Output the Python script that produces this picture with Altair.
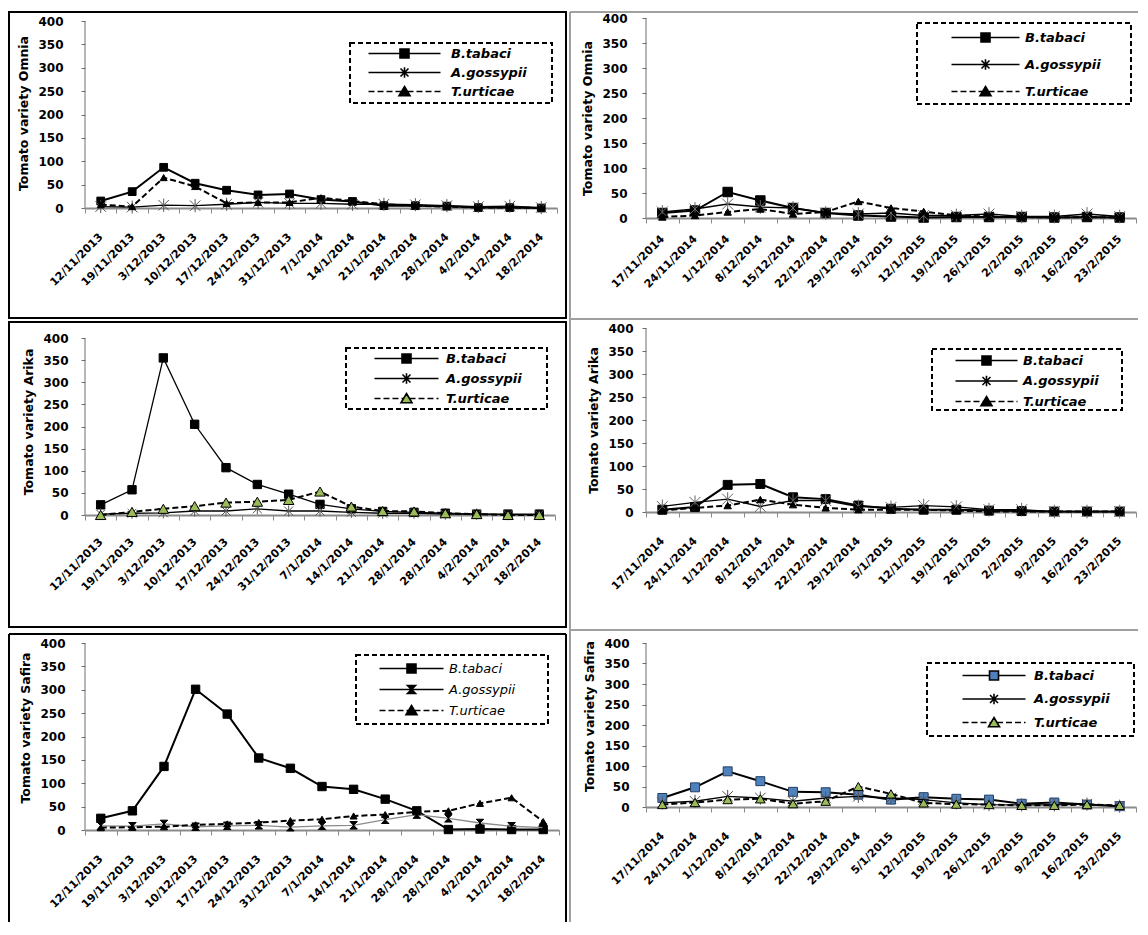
import json
import altair as alt
import pandas as pd

# ---------------- data ----------------
LEFT_DATES = ["12/11/2013", "19/11/2013", "3/12/2013", "10/12/2013", "17/12/2013",
              "24/12/2013", "31/12/2013", "7/1/2014", "14/1/2014", "21/1/2014",
              "28/1/2014", "28/1/2014", "4/2/2014", "11/2/2014", "18/2/2014"]
RIGHT_DATES = ["17/11/2014", "24/11/2014", "1/12/2014", "8/12/2014", "15/12/2014",
               "22/12/2014", "29/12/2014", "5/1/2015", "12/1/2015", "19/1/2015",
               "26/1/2015", "2/2/2015", "9/2/2015", "16/2/2015", "23/2/2015"]
SPECIES = ["B.tabaci", "A.gossypii", "T.urticae"]

OMNIA_2013_BT = [15, 35, 87, 53, 38, 28, 30, 18, 14, 5, 5, 4, 1, 1, 0]
OMNIA_2013_AG = [3, 2, 6, 5, 8, 12, 10, 10, 8, 8, 7, 5, 3, 4, 1]
OMNIA_2013_TU = [7, 3, 65, 46, 10, 12, 12, 22, 15, 8, 5, 3, 1, 1, 0]

OMNIA_2014_BT = [10, 15, 52, 35, 20, 10, 5, 3, 1, 2, 2, 2, 1, 2, 1]
OMNIA_2014_AG = [12, 18, 28, 22, 20, 10, 8, 10, 5, 5, 8, 3, 3, 8, 3]
OMNIA_2014_TU = [2, 5, 12, 18, 8, 12, 33, 20, 13, 5, 3, 2, 1, 2, 1]

ARIKA_2013_BT = [23, 57, 355, 205, 107, 69, 47, 24, 14, 8, 6, 4, 2, 2, 2]
ARIKA_2013_AG = [2, 4, 5, 9, 9, 14, 9, 9, 6, 4, 4, 2, 2, 1, 1]
ARIKA_2013_TU = [0, 7, 14, 20, 28, 30, 34, 53, 19, 9, 8, 4, 2, 0, 0]

ARIKA_2014_BT = [5, 11, 59, 61, 32, 28, 14, 7, 5, 5, 3, 2, 1, 1, 1]
ARIKA_2014_AG = [12, 21, 28, 12, 25, 25, 12, 10, 14, 11, 5, 5, 1, 1, 1]
ARIKA_2014_TU = [3, 9, 14, 27, 16, 9, 5, 5, 5, 3, 1, 1, 1, 1, 1]

SAFIRA_2013_BT = [25, 41, 136, 301, 248, 154, 132, 93, 87, 66, 41, 1, 2, 1, 1]
SAFIRA_2013_AG = [9, 8, 13, 7, 9, 10, 6, 9, 10, 22, 33, 25, 15, 8, 5]
SAFIRA_2013_TU = [5, 6, 7, 11, 13, 16, 20, 23, 30, 33, 39, 41, 57, 69, 18]

SAFIRA_2014_BT = [22, 48, 87, 63, 37, 36, 30, 18, 24, 20, 18, 8, 11, 6, 2]
SAFIRA_2014_AG = [10, 14, 26, 22, 14, 22, 26, 22, 18, 10, 6, 5, 5, 7, 2]
SAFIRA_2014_TU = [6, 11, 18, 20, 8, 14, 50, 32, 10, 7, 6, 4, 4, 6, 4]

Y_TICKS = [0, 50, 100, 150, 200, 250, 300, 350, 400]

FONT = "DejaVu Sans"
OLIVE = "#9bbb59"
BLUE = "#4f81bd"

ASTER = "M-1,-1L1,1M-1,1L1,-1M0,-1.25V1.25"
HOURGLASS = "M-0.9,-0.9H0.9L-0.9,0.9H0.9Z"

LEG_MARK = {
    "square": ("M-0.9,-0.9H0.9V0.9H-0.9Z", 0.9),
    "triangle": ("M0,-1L1.1,0.85H-1.1Z", 0.6),
    "aster": ("M-0.8,-0.8L0.8,0.8M-0.8,0.8L0.8,-0.8M0,-1.05V1.05", 0.0),
    "hourglass": ("M-0.8,-0.8H0.8L-0.8,0.8H0.8Z", 0.0),
}


def seg_path(x0, x1, dashed):
    if x1 <= x0:
        return ""
    if not dashed:
        return f"M{x0:.2f},0H{x1:.2f}"
    out = []
    x = x0
    while x < x1 - 1e-6:
        e = min(x + 1.2, x1)
        out.append(f"M{x:.2f},0H{e:.2f}")
        x = e + 0.6
    return "".join(out)


def legend_path(kind, half, dashed):
    marker, m = LEG_MARK[kind]
    if m == 0:
        line = seg_path(-half, half, dashed)
    else:
        line = seg_path(-half, -m, dashed) + seg_path(m, half, dashed)
    return line + marker


def make_df(dates, bt, ag, tu):
    rows = []
    for sp, vals in zip(SPECIES, [bt, ag, tu]):
        for i, v in enumerate(vals):
            rows.append({"i": i, "date": dates[i], "species": sp, "v": v})
    return pd.DataFrame(rows)


def one():
    return alt.Chart(alt.Data(values=[{}]))


def vrule(x, y0, y1, color, width):
    return one().mark_rule(color=color, strokeWidth=width).encode(
        x=alt.value(x), y=alt.value(y0), y2=alt.value(y1))


def hrule(y, x0, x1, color, width):
    return one().mark_rule(color=color, strokeWidth=width).encode(
        y=alt.value(y), x=alt.value(x0), x2=alt.value(x1))


def panel(cfg):
    ox, oy = cfg["origin"]
    w = cfg["right"] - ox
    h = cfg["zero"] - oy
    # domain top so that 400 sits at cfg["top400"]
    dmax = 400.0 * h / (cfg["zero"] - cfg["top400"])
    dates = cfg["dates"]
    df = make_df(dates, *cfg["values"])

    x = alt.X("i:O",
              scale=alt.Scale(type="band", paddingInner=0, paddingOuter=0),
              bandPosition=0.5,
              axis=alt.Axis(title=None,
                            labelExpr=f"{json.dumps(dates)}[datum.value]",
                            labelAngle=-45, labelAlign="right", labelBaseline="middle",
                            labelPadding=cfg["xpad"], tickBand="extent", tickSize=5,
                            domainColor="#8a8a8a", domainWidth=2, tickColor="#8a8a8a",
                            labelFontSize=11, labelOverlap=False))
    y_scale = alt.Scale(domain=[0, dmax], nice=False)
    y_axis = alt.Axis(values=Y_TICKS, title=cfg["title"], labelPadding=cfg["ypad"],
                      tickSize=4, titlePadding=7, domain=False, labelOverlap=False,
                      tickColor="#6e6e6e", labelFontSize=12, titleFontSize=12.5)
    y = alt.Y("v:Q", scale=y_scale, axis=y_axis)

    layers = []
    cx0, cy0, cx1, cy1 = cfg["cell"]
    layers.append(one().mark_rect(opacity=0).encode(
        x=alt.value(cx0 - ox), x2=alt.value(cx1 - ox),
        y=alt.value(cy0 - oy), y2=alt.value(cy1 - oy)))
    if cfg.get("frame"):
        fx0, fy0, fx1, fy1 = cfg["frame"]
        layers.append(one().mark_rect(fillOpacity=0, stroke="black", strokeWidth=2).encode(
            x=alt.value(fx0 - ox), x2=alt.value(fx1 - ox),
            y=alt.value(fy0 - oy), y2=alt.value(fy1 - oy)))
    if cfg.get("open_frame"):
        fx0, fy0, fx1, fy1 = cfg["open_frame"]
        layers.append(hrule(fy0 - oy, fx0 - ox, fx1 - ox, "black", 2))
        layers.append(vrule(fx0 - ox, fy0 - oy, fy1 - oy, "black", 2))
        layers.append(vrule(fx1 - ox, fy0 - oy, fy1 - oy, "black", 2))
    if cfg.get("gray"):
        gx, gy, gx1, gy1 = cfg["gray"]
        layers.append(vrule(gx - ox, gy - oy, gy1 - oy, "#a0a0a0", 2))
        layers.append(hrule(gy - oy, gx - ox, gx1 - ox, "#a0a0a0", 2))
    bx0, by0, bx1, by1 = cfg["lbox"]
    layers.append(one().mark_rect(
        fill="white", stroke="black", strokeWidth=2, strokeDash=[5, 3]).encode(
        x=alt.value(bx0 - ox), x2=alt.value(bx1 - ox),
        y=alt.value(by0 - oy), y2=alt.value(by1 - oy)))

    st = cfg["style"]
    base = alt.Chart(df)
    for k, sp in enumerate(SPECIES):
        s = st[sp]
        sub = base.transform_filter(alt.datum.species == sp)
        line_kw = dict(color=s["line"], strokeWidth=s["lw"])
        if s.get("dash"):
            line_kw["strokeDash"] = s["dash"]
        layers.append(sub.mark_line(**line_kw).encode(x=x, y=y))
        pk = dict(shape=s["shape"], size=s["size"], opacity=1)
        if s.get("filled", True):
            pk.update(filled=True, fill=s["fill"], stroke=s.get("stroke", s["fill"]),
                      strokeWidth=s.get("sw", 1))
        else:
            pk.update(filled=False, stroke=s["stroke"], strokeWidth=s.get("sw", 1))
        layers.append(sub.mark_point(**pk).encode(x=x, y=y))
        if k == 0:
            # y axis line from 0 to 400 through the y scale
            layers.append(one().mark_rule(color="#6e6e6e", strokeWidth=1).encode(
                x=alt.value(0),
                y=alt.Y(datum=0, type="quantitative", scale=y_scale, axis=y_axis),
                y2=alt.datum(400)))

    lg = cfg["legend"]
    half = lg["L"] / 2 / 5.0
    paths = [legend_path(kk, half, d) for kk, d in zip(lg["kinds"], [False, False, True])]
    legend = alt.Legend(title=None, orient="none", legendX=lg["x"], legendY=lg["y"],
                        symbolSize=100, symbolStrokeWidth=1.6, symbolStrokeColor="black",
                        symbolOpacity=1, symbolOffset=0, padding=0, zindex=1,
                        labelFont=FONT, labelFontSize=13, labelFontStyle="italic",
                        labelFontWeight=lg.get("weight", "bold"), labelColor="black",
                        labelOffset=lg["loff"], rowPadding=lg["rowpad"], labelLimit=0)
    leg_df = pd.DataFrame({"species": SPECIES})
    layers.append(alt.Chart(leg_df).transform_filter("false").mark_point(
        filled=True, size=100, strokeWidth=1.6).encode(
        color=alt.Color("species:N", scale=alt.Scale(domain=SPECIES, range=lg["fills"]),
                        legend=legend),
        shape=alt.Shape("species:N", scale=alt.Scale(domain=SPECIES, range=paths),
                        legend=legend),
        stroke=alt.Stroke("species:N",
                          scale=alt.Scale(domain=SPECIES, range=["black", "black", "black"]),
                          legend=legend)))

    return alt.layer(*layers).properties(width=w, height=h)


def std_style(bt_size=70, ag_size=110, tu_size=55, bt_lw=2, bt_fill="black", bt_stroke="black",
              tu_fill="black", tu_stroke="black", ag_shape=ASTER, ag_line="black",
              ag_filled=False, ag_stroke="#555555"):
    ag = dict(line=ag_line, lw=1.3, shape=ag_shape, size=ag_size, stroke=ag_stroke, sw=1,
              filled=ag_filled)
    if ag_filled:
        ag["fill"] = "black"
    return {
        "B.tabaci": dict(line="black", lw=bt_lw, shape="square", size=bt_size,
                         fill=bt_fill, stroke=bt_stroke, sw=1),
        "A.gossypii": ag,
        "T.urticae": dict(line="black", lw=2, dash=[6, 3], shape="triangle-up", size=tu_size,
                          fill=tu_fill, stroke=tu_stroke, sw=1),
    }


def legend_cfg(ox, oy, line_left, line_right, label_x, c1, pitch, kinds, fills, weight="bold"):
    L = line_right - line_left
    center = (line_left + line_right) / 2
    return dict(L=L, x=center - ox - 6, y=c1 - oy - 6, loff=(label_x - center) - 6,
                rowpad=pitch - 17, kinds=kinds, fills=fills, weight=weight)


K_STD = ["square", "aster", "triangle"]
K_P5 = ["square", "hourglass", "triangle"]
BLK = ["black", "black", "black"]

X0, X1 = 85, 646          # plot origins of the two columns
T1, T2, T3 = 18, 328, 625  # plot tops of the three rows

cfgs = [
    dict(origin=(X0, T1), right=557, zero=208, top400=21, dates=LEFT_DATES,
         values=(OMNIA_2013_BT, OMNIA_2013_AG, OMNIA_2013_TU),
         title="Tomato variety Omnia", xpad=22, ypad=18,
         cell=(8, 11, 568, 320), frame=(9, 12, 566, 318),
         lbox=(350, 43, 552, 103),
         legend=legend_cfg(X0, T1, 368, 440, 450, 53, 19, K_STD, BLK),
         style=std_style(bt_size=60, ag_size=110, tu_size=50)),
    dict(origin=(X1, T1), right=1136, zero=218, top400=18, dates=RIGHT_DATES,
         values=(OMNIA_2014_BT, OMNIA_2014_AG, OMNIA_2014_TU),
         title="Tomato variety Omnia", xpad=14, ypad=15,
         cell=(568, 11, 1138, 320), gray=(570, 12, 1138, 320),
         lbox=(917, 23, 1131, 104),
         legend=legend_cfg(X1, T1, 951, 1019, 1024, 37, 27, K_STD, BLK),
         style=std_style(bt_size=90, ag_size=120, tu_size=55, ag_stroke="#666666")),
    dict(origin=(X0, T2), right=555, zero=515, top400=338, dates=LEFT_DATES,
         values=(ARIKA_2013_BT, ARIKA_2013_AG, ARIKA_2013_TU),
         title="Tomato variety Arika", xpad=20, ypad=13,
         cell=(8, 320, 568, 630), frame=(9, 322, 566, 627),
         lbox=(346, 348, 547, 409),
         legend=legend_cfg(X0, T2, 374, 438, 445, 358, 20, K_STD, ["black", "black", OLIVE]),
         style=std_style(bt_size=70, bt_lw=1.3, ag_size=80, tu_size=110, tu_fill=OLIVE)),
    dict(origin=(X1, T2), right=1136, zero=512, top400=328, dates=RIGHT_DATES,
         values=(ARIKA_2014_BT, ARIKA_2014_AG, ARIKA_2014_TU),
         title="Tomato variety Arika", xpad=22, ypad=9,
         cell=(568, 320, 1138, 630), gray=(570, 319, 1138, 630),
         lbox=(932, 349, 1122, 410),
         legend=legend_cfg(X1, T2, 955, 1017, 1022, 360, 20.5, K_STD, BLK),
         style=std_style(bt_size=80, ag_size=120, tu_size=55, ag_stroke="#666666")),
    dict(origin=(X0, T3), right=559, zero=830, top400=643, dates=LEFT_DATES,
         values=(SAFIRA_2013_BT, SAFIRA_2013_AG, SAFIRA_2013_TU),
         title="Tomato variety Safira", xpad=22, ypad=16,
         cell=(8, 630, 568, 922), open_frame=(9, 634, 566, 922),
         lbox=(356, 655, 548, 724),
         legend=legend_cfg(X0, T3, 379, 443, 448, 668, 22, K_P5, BLK, weight="normal"),
         style=std_style(bt_size=70, ag_size=70, tu_size=50, ag_shape=HOURGLASS,
                         ag_line="#8c8c8c", ag_filled=True, ag_stroke="black")),
    dict(origin=(X1, T3), right=1136, zero=807, top400=643, dates=RIGHT_DATES,
         values=(SAFIRA_2014_BT, SAFIRA_2014_AG, SAFIRA_2014_TU),
         title="Tomato variety Safira", xpad=22, ypad=13,
         cell=(568, 630, 1138, 922), gray=(570, 630, 1138, 922),
         lbox=(927, 663, 1134, 736),
         legend=legend_cfg(X1, T3, 962, 1025, 1033, 675, 23.5, K_STD, [BLUE, "black", OLIVE]),
         style=std_style(bt_size=80, bt_fill=BLUE, bt_stroke="#243f60", ag_size=110,
                         tu_size=90, tu_fill=OLIVE)),
]

panels = [panel(c) for c in cfgs]

max_w0 = max(c["right"] - X0 for c in cfgs[0::2])
col_gap = X1 - X0 - max_w0
max_h1 = max(c["zero"] - T1 for c in cfgs[0:2])
row_gap = T2 - T1 - max_h1

chart = alt.concat(*panels, columns=2, spacing={"column": col_gap, "row": row_gap},
                   align="each", bounds="flush").resolve_scale(
    color="independent", shape="independent", stroke="independent"
).properties(
    padding={"left": 0, "top": 3, "right": 0, "bottom": 0}
).configure_view(stroke=None).configure_axis(
    labelFont=FONT, titleFont=FONT, labelFontWeight="bold", titleFontWeight="bold",
    labelColor="black", titleColor="black", grid=False
)

chart.save("out.html", embed_options={"renderer": "svg", "actions": False})
